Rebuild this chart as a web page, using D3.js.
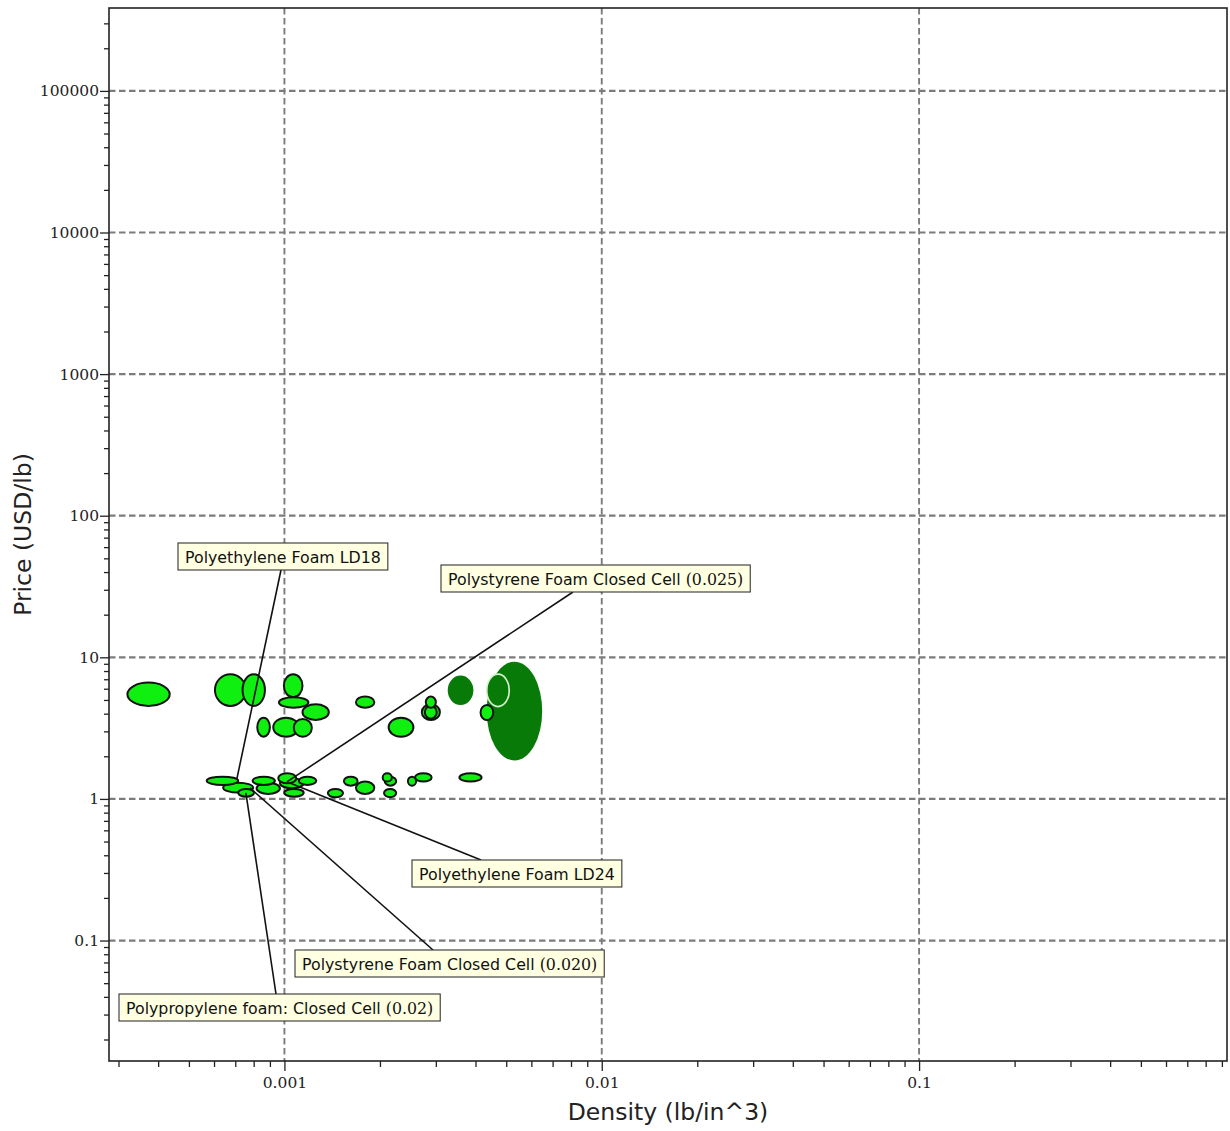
<!DOCTYPE html>
<html>
<head>
<meta charset="utf-8">
<script src="https://cdn.jsdelivr.net/npm/d3@7"></script>
<style>
  body { margin: 0; background: #fff; }
  svg { display: block; }
</style>
</head>
<body>
<svg id="chart" width="1230" height="1131"></svg>
<script>
// ---- Material property ranges (density in lb/in^3, price in USD/lb) ----
const densityLow  = [0.00032, 0.000604, 0.000738, 0.000996, 0.000961, 0.00114, 0.000821, 0.000922, 0.00107, 0.00168,
                     0.00213, 0.00279, 0.00271, 0.00277, 0.00327, 0.00434, 0.00415, 0.00434,
                     0.000569, 0.000641, 0.000715, 0.000794, 0.000817, 0.000956, 0.000968, 0.000999, 0.00111,
                     0.00154, 0.00137, 0.00168, 0.00204, 0.00207, 0.00206, 0.00245, 0.00258, 0.00356];
const densityHigh = [0.000435, 0.000756, 0.000868, 0.00114, 0.00119, 0.00138, 0.0009, 0.00111, 0.00122, 0.00192,
                     0.00255, 0.0030, 0.00309, 0.00302, 0.00394, 0.00511, 0.00455, 0.00649,
                     0.000715, 0.000797, 0.000802, 0.000933, 0.000968, 0.00109, 0.00115, 0.00115, 0.00126,
                     0.0017, 0.00153, 0.00192, 0.00218, 0.00225, 0.00225, 0.0026, 0.00291, 0.00418];
const priceLow    = [4.54, 4.54, 4.54, 5.23, 4.41, 3.61, 2.75, 2.75, 2.75, 4.41,
                     2.75, 4.41, 3.61, 3.69, 4.61, 4.49, 3.61, 1.87,
                     1.256, 1.108, 1.038, 1.256, 1.085, 1.291, 1.19, 1.038, 1.256,
                     1.241, 1.028, 1.085, 1.325, 1.241, 1.028, 1.241, 1.325, 1.325];
const priceHigh   = [6.63, 7.60, 7.60, 7.60, 5.23, 4.66, 3.75, 3.75, 3.67, 5.28,
                     3.75, 5.28, 4.66, 4.54, 7.43, 7.60, 4.61, 9.32,
                     1.437, 1.303, 1.177, 1.437, 1.303, 1.519, 1.40, 1.177, 1.437,
                     1.437, 1.177, 1.325, 1.519, 1.437, 1.177, 1.437, 1.519, 1.519];
// "light" = candidate material, "dark" = reference group, "ring" = highlighted reference
const materialKind = ["light","light","light","light","light","light","light","light","light","light",
                      "light","light","light","light","dark","ring","light","dark",
                      "light","light","light","light","light","light","light","light","light",
                      "light","light","light","light","light","light","light","light","light"];

// ---- Axis ticks ----
const xMajorTicks  = [0.001, 0.01, 0.1];
const xMajorLabels = ["0.001", "0.01", "0.1"];
const yMajorTicks  = [0.1, 1, 10, 100, 1000, 10000, 100000];
const yMajorLabels = ["0.1", "1", "10", "100", "1000", "10000", "100000"];

// ---- Callouts: text and the material point each one points at ----
const calloutText    = ["Polyethylene Foam LD18",
                        "Polystyrene Foam Closed Cell (0.025)",
                        "Polyethylene Foam LD24",
                        "Polystyrene Foam Closed Cell (0.020)",
                        "Polypropylene foam: Closed Cell (0.02)"];
const calloutDensity = [0.000707, 0.001018, 0.001041, 0.000779, 0.000756];
const calloutPrice   = [1.362, 1.318, 1.297, 1.196, 1.102];

// Callout box placement (pixels): left, top, leader attach x, attach edge
const calloutLayout = [
  { left: 178, top: 543, attachX: 281, edge: "bottom" },
  { left: 441, top: 565, attachX: 573, edge: "bottom" },
  { left: 412, top: 860, attachX: 481, edge: "top" },
  { left: 295, top: 950, attachX: 433, edge: "top" },
  { left: 119, top: 994, attachX: 276, edge: "top" }
];

// ---- Layout & styles ----
const W = 1230, H = 1131;
const plot = { left: 109, right: 1227, top: 8, bottom: 1061 };
const SANS = "'DejaVu Sans', Verdana, sans-serif";
const SERIF = "'DejaVu Serif', 'Liberation Serif', serif";
const LIGHT = "#10f010", DARK = "#087a08";

const svg = d3.select("#chart");
svg.append("rect").attr("width", W).attr("height", H).attr("fill", "#fff");

const x = d3.scaleLog().domain([0.00028, 0.934]).range([plot.left, plot.right]);
const y = d3.scaleLog().domain([0.0141, 385000]).range([plot.bottom, plot.top]);

// minor tick positions: 2..9 times each power of ten inside the domain
function minorTicks(scale) {
  const [a, b] = scale.domain();
  const out = [];
  for (let e = Math.floor(Math.log10(a)); e <= Math.ceil(Math.log10(b)); e++) {
    for (let m = 2; m <= 9; m++) {
      const v = m * Math.pow(10, e);
      if (v >= a && v <= b) out.push(v);
    }
  }
  return out;
}

// ---- Grid ----
const grid = svg.append("g").attr("stroke", "#7c7c7c").attr("fill", "none");
grid.selectAll("line.h").data(yMajorTicks).join("line")
  .attr("class", "h")
  .attr("x1", plot.left).attr("x2", plot.right)
  .attr("y1", d => y(d)).attr("y2", d => y(d))
  .attr("stroke-width", 2.2).attr("stroke-dasharray", "6.5,3.5");
grid.selectAll("line.v").data(xMajorTicks).join("line")
  .attr("class", "v")
  .attr("y1", plot.top).attr("y2", plot.bottom)
  .attr("x1", d => x(d)).attr("x2", d => x(d))
  .attr("stroke-width", 1.9).attr("stroke-dasharray", "6.5,3.5");

// ---- Axes ----
function styleAxis(g) {
  g.select(".domain").remove();
  g.selectAll(".tick line").attr("stroke", "#222").attr("stroke-width", 1.3);
  g.selectAll(".tick text").attr("font-family", SERIF).attr("font-size", 15.5).attr("fill", "#222");
}
svg.append("g").attr("transform", `translate(0,${plot.bottom})`)
  .call(d3.axisBottom(x).tickValues(minorTicks(x)).tickSize(6).tickFormat(""))
  .call(styleAxis);
svg.append("g").attr("transform", `translate(0,${plot.bottom})`)
  .call(d3.axisBottom(x).tickValues(xMajorTicks).tickSize(10).tickPadding(6)
        .tickFormat((d, i) => xMajorLabels[i]))
  .call(styleAxis);
svg.append("g").attr("transform", `translate(${plot.left},0)`)
  .call(d3.axisLeft(y).tickValues(minorTicks(y)).tickSize(5).tickFormat(""))
  .call(styleAxis);
svg.append("g").attr("transform", `translate(${plot.left},0)`)
  .call(d3.axisLeft(y).tickValues(yMajorTicks).tickSize(9).tickPadding(1)
        .tickFormat((d, i) => yMajorLabels[i]))
  .call(styleAxis);

// frame
svg.append("rect")
  .attr("x", plot.left).attr("y", plot.top)
  .attr("width", plot.right - plot.left).attr("height", plot.bottom - plot.top)
  .attr("fill", "none").attr("stroke", "#222").attr("stroke-width", 1.6);

// ---- Bubbles (ellipse spans each material's density and price range) ----
const materials = densityLow.map((d, i) => {
  const x0 = x(d), x1 = x(densityHigh[i]);
  const y0 = y(priceLow[i]), y1 = y(priceHigh[i]);
  return {
    cx: (x0 + x1) / 2, cy: (y0 + y1) / 2,
    rx: Math.abs(x1 - x0) / 2, ry: Math.abs(y0 - y1) / 2,
    kind: materialKind[i]
  };
}).sort((a, b) => b.rx * b.ry - a.rx * a.ry);

const clipId = "plotClip";
svg.append("clipPath").attr("id", clipId).append("rect")
  .attr("x", plot.left).attr("y", plot.top)
  .attr("width", plot.right - plot.left).attr("height", plot.bottom - plot.top);

svg.append("g").attr("clip-path", `url(#${clipId})`)
  .selectAll("ellipse").data(materials).join("ellipse")
  .attr("cx", d => d.cx).attr("cy", d => d.cy)
  .attr("rx", d => d.rx).attr("ry", d => d.ry)
  .attr("fill", d => d.kind === "light" ? LIGHT : DARK)
  .attr("stroke", d => d.kind === "light" ? "#111" : d.kind === "ring" ? "#d6f3cf" : "none")
  .attr("stroke-width", d => d.kind === "light" ? 2 : 1.7);

// ---- Callouts ----
const callouts = calloutText.map((t, i) => ({
  text: t, px: x(calloutDensity[i]), py: y(calloutPrice[i]), ...calloutLayout[i]
}));

const cg = svg.append("g");
const boxH = 27, padX = 7;

callouts.forEach(c => {
  const g = cg.append("g");
  const line = g.append("line").attr("stroke", "#111").attr("stroke-width", 1.6);
  const rect = g.append("rect").attr("fill", "#ffffe1").attr("stroke", "#333").attr("stroke-width", 1.1);
  const txt = g.append("text")
    .attr("x", c.left + padX).attr("y", c.top + 19.5)
    .attr("font-size", 15.8).attr("fill", "#111");
  c.text.split(/(\(\d[\d.]*\))/).filter(s => s.length).forEach(part => {
    txt.append("tspan").text(part)
      .attr("font-family", /^\(\d/.test(part) ? SERIF : SANS);
  });
  const w = txt.node().getComputedTextLength() + 2 * padX;
  rect.attr("x", c.left).attr("y", c.top).attr("width", w).attr("height", boxH);
  const ay = c.edge === "bottom" ? c.top + boxH : c.top;
  line.attr("x1", c.attachX).attr("y1", ay).attr("x2", c.px).attr("y2", c.py);
});

// ---- Axis titles ----
svg.append("text")
  .attr("x", (plot.left + plot.right) / 2).attr("y", 1120)
  .attr("text-anchor", "middle").attr("font-family", SANS).attr("font-size", 23.5).attr("fill", "#222")
  .text("Density (lb/in^3)");
svg.append("text")
  .attr("transform", `translate(31,${(plot.top + plot.bottom) / 2}) rotate(-90)`)
  .attr("text-anchor", "middle").attr("font-family", SANS).attr("font-size", 23.5).attr("fill", "#222")
  .text("Price (USD/lb)");
</script>
</body>
</html>
